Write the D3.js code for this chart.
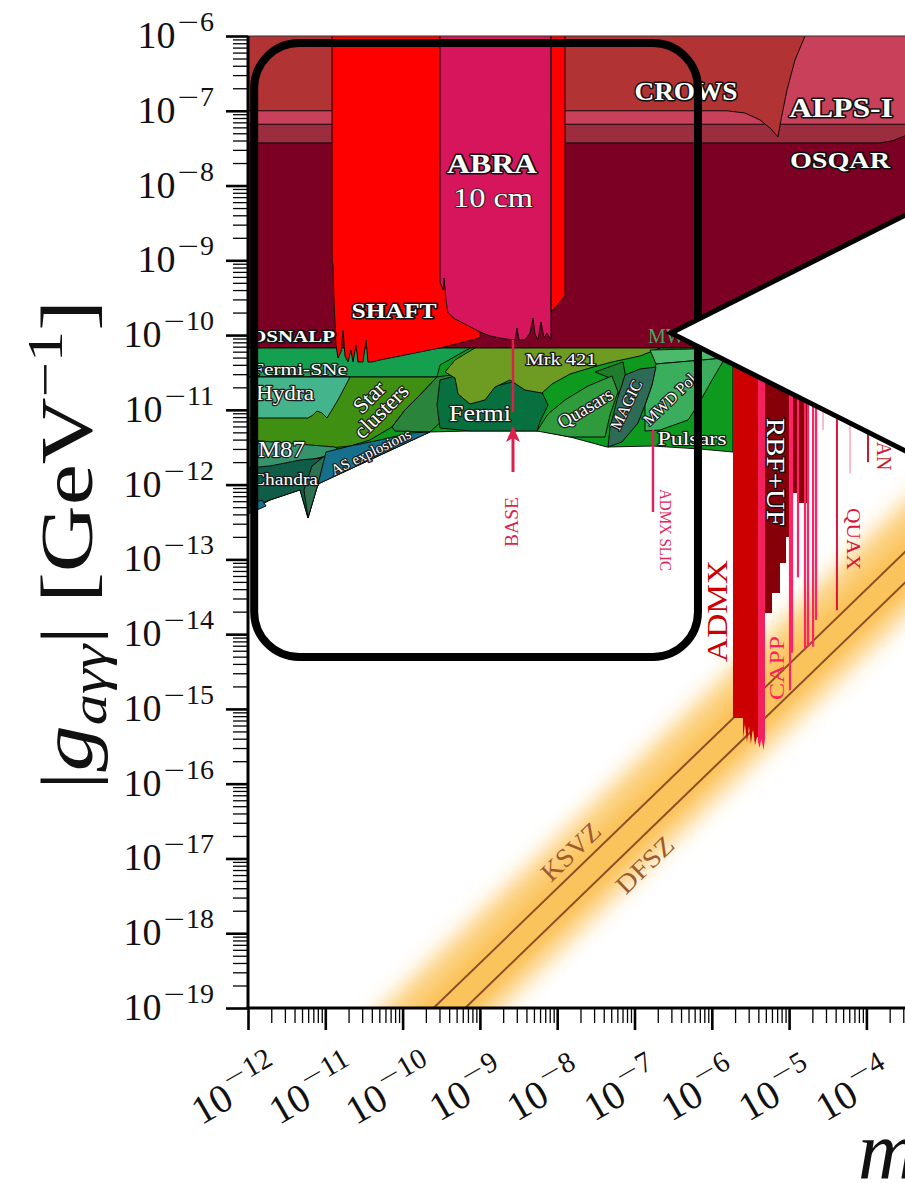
<!DOCTYPE html>
<html><head><meta charset="utf-8">
<script src="https://cdn.jsdelivr.net/npm/d3@7"></script>
<style>
html,body{margin:0;padding:0;background:#fff;}
svg{display:block;}
text{font-family:"Liberation Serif","Times New Roman",serif;}
</style></head><body>
<svg id="chart" width="905" height="1183"></svg>
<script>
// All coordinates below are [log10(m_a / eV), log10(|g| / GeV^-1)]
const xMajorExps = [-12,-11,-10,-9,-8,-7,-6,-5,-4,-3];
const yMajorExps = [-19,-18,-17,-16,-15,-14,-13,-12,-11,-10,-9,-8,-7,-6];

// --- laboratory / helioscope limits (top part) ---
const castRegion  = [[-12,-5.9],[-3,-5.9],[-3,-10.173],[-12,-10.173]];
const osqarRegion = [[-12,-7.0],[-3,-7.0],[-3,-7.25],[-3.436,-7.31],[-3.565,-7.36],[-3.656,-7.40],[-3.824,-7.43],[-12,-7.43]];
const alpsRegion  = [[-12,-5.9],[-3,-5.9],[-3,-7.18],[-12,-7.18]];
const crowsRegion = [[-12,-5.9],[-4.78,-5.9],[-4.794,-6.0],[-4.924,-6.321],[-5.027,-6.722],[-5.105,-7.123],[-5.144,-7.351],
  [-5.247,-7.230],[-5.376,-7.123],[-5.571,-7.030],[-5.803,-7.0],[-12,-7.0]];
const shaftRegion = [[-10.913,-5.9],[-8.999,-5.9],[-8.999,-10.039],[-9.257,-10.106],[-9.516,-10.173],[-9.775,-10.226],
  [-10.034,-10.280],[-10.163,-10.307],[-10.292,-10.333],[-10.396,-10.360],[-10.448,-10.360],[-10.473,-10.066],
  [-10.512,-10.360],[-10.577,-10.360],[-10.603,-10.133],[-10.642,-10.360],[-10.668,-10.2],[-10.706,-10.360],
  [-10.745,-10.280],[-10.771,-9.932],[-10.797,-10.226],[-10.836,-10.307],[-10.862,-10.133],[-10.888,-9.531],
  [-10.901,-9.063],[-10.913,-8.996]];
const abraRegion = [[-9.516,-5.9],[-8.080,-5.9],[-8.080,-10.066],[-8.132,-9.972],[-8.171,-10.039],[-8.210,-9.825],
  [-8.248,-10.066],[-8.287,-9.986],[-8.313,-9.772],[-8.352,-9.972],[-8.417,-10.066],[-8.494,-10.066],[-8.520,-9.905],
  [-8.546,-10.066],[-8.675,-10.052],[-8.869,-10.012],[-9.025,-9.945],[-9.193,-9.852],[-9.322,-9.785],[-9.413,-9.705],
  [-9.439,-9.531],[-9.464,-9.237],[-9.477,-9.397],[-9.516,-9.290]];
const shaftHighMass = [[-8.080,-5.9],[-7.899,-5.9],[-7.899,-9.477],[-8.067,-9.678],[-8.080,-9.678]];

// --- astrophysical bounds ---
const pulsars      = [[-12,-10.173],[-5.726,-10.173],[-5.726,-11.564],[-6.153,-11.524],[-6.761,-11.484],[-7.356,-11.497],
  [-7.834,-11.363],[-8.222,-11.283],[-9.128,-11.283],[-9.646,-11.296],[-11.094,-11.992],[-11.224,-12.446],
  [-11.327,-12.072],[-11.715,-12.206],[-12,-12.366]];
const fermiSNe     = [[-12,-10.173],[-9.128,-10.173],[-9.516,-10.400],[-9.555,-10.561],[-12,-10.561]];
const starClusters = [[-12,-10.561],[-9.555,-10.561],[-9.775,-10.801],[-9.969,-11.002],[-10.137,-11.229],[-10.422,-11.403],
  [-10.680,-11.484],[-10.939,-11.510],[-11.327,-11.497],[-11.715,-11.484],[-12,-11.470]];
const hydra        = [[-12,-10.561],[-10.680,-10.561],[-10.836,-10.868],[-10.978,-11.109],[-11.043,-11.042],[-11.107,-11.015],
  [-11.159,-11.069],[-11.224,-11.109],[-12,-11.109]];
const gammaPatch   = [[-9.555,-10.561],[-9.128,-10.494],[-9.322,-10.801],[-9.477,-11.136],[-9.646,-11.296],[-10.098,-11.283],
  [-10.137,-11.229],[-9.969,-11.002],[-9.775,-10.801]];
const m87          = [[-12,-11.403],[-10.875,-11.497],[-10.784,-11.564],[-11.094,-11.644],[-11.327,-11.698],[-11.715,-11.778],[-12,-11.831]];
const chandra      = [[-12,-11.778],[-11.715,-11.751],[-11.327,-11.671],[-11.043,-11.644],[-11.094,-11.992],[-11.224,-12.446],
  [-11.327,-12.072],[-11.715,-12.206],[-12,-12.313]];
const chandraSpike = [[-11.043,-11.644],[-10.939,-11.564],[-11.094,-11.992],[-11.224,-12.446],[-11.276,-12.072],[-11.172,-11.751]];
const asExplosions = [[-11.094,-11.992],[-10.991,-11.564],[-10.680,-11.484],[-10.292,-11.403],[-9.904,-11.310],[-9.646,-11.296]];
const asCorner     = [[-12,-12.273],[-11.819,-12.206],[-11.767,-12.286],[-12,-12.393]];
const fermi        = [[-9.516,-10.601],[-9.128,-10.494],[-8.740,-10.668],[-8.481,-10.601],[-8.222,-10.708],[-8.119,-10.935],
  [-8.222,-11.162],[-8.261,-11.283],[-9.128,-11.283],[-9.516,-11.243],[-9.555,-10.935]];
const mrk421       = [[-9.322,-10.333],[-9.063,-10.173],[-6.670,-10.173],[-6.929,-10.280],[-7.291,-10.360],[-7.576,-10.440],
  [-7.834,-10.521],[-8.067,-10.654],[-8.197,-10.775],[-8.417,-10.735],[-8.611,-10.601],[-8.805,-10.695],[-8.934,-10.868],
  [-9.128,-10.922],[-9.283,-10.788],[-9.322,-10.574],[-9.451,-10.494]];
const quasarsDark  = [[-7.511,-10.494],[-7.149,-10.360],[-7.110,-10.574],[-7.214,-10.801],[-7.317,-10.574]];
const quasars      = [[-8.261,-11.283],[-8.119,-11.056],[-7.899,-10.868],[-7.601,-10.681],[-7.291,-10.547],[-7.214,-10.761],
  [-7.317,-11.069],[-7.382,-11.363],[-7.834,-11.363]];
const mwdTop       = [[-6.799,-10.2],[-5.726,-10.173],[-5.726,-10.280],[-5.829,-10.307],[-6.722,-10.387]];
const mwdPol       = [[-6.722,-10.387],[-5.829,-10.307],[-5.997,-10.601],[-6.179,-10.935],[-6.308,-11.136],[-6.670,-11.270],
  [-6.864,-11.283],[-6.864,-10.935],[-6.774,-10.668]];
const magic        = [[-7.343,-11.497],[-7.317,-11.243],[-7.226,-10.868],[-7.123,-10.534],[-6.929,-10.454],[-6.722,-10.427],
  [-6.774,-10.668],[-6.864,-10.935],[-6.955,-11.176],[-7.162,-11.430]];

// --- haloscopes ---
const admx  = [[-5.726,-10.0],[-5.402,-10.0],[-5.402,-15.375],[-5.416,-15.375],[-5.441,-15.482],[-5.468,-15.255],[-5.494,-15.469],
  [-5.519,-15.228],[-5.545,-15.442],[-5.571,-15.201],[-5.597,-15.389],[-5.597,-15.121],[-5.726,-15.121]];
const capp  = [[-5.402,-10.0],[-5.312,-10.0],[-5.312,-15.40],[-5.33,-15.55],[-5.36,-15.40],[-5.38,-15.52],[-5.402,-15.45]];
const rbfuf = [[-5.350,-10.0],[-4.768,-10.0],[-4.768,-12.246],[-4.897,-12.246],[-4.897,-12.112],[-4.988,-12.112],[-4.988,-12.701],
  [-5.040,-12.701],[-5.040,-13.048],[-5.118,-13.048],[-5.118,-13.450],[-5.221,-13.450],[-5.221,-13.717],[-5.350,-13.717]];
const cavityLines = [[-4.988,-14.75],[-4.962,-14.25],[-4.885,-13.24],[-4.794,-14.21],[-4.755,-14.17],[-4.690,-14.17],[-4.651,-13.81]];
const faintLines  = [[-4.561,-11.27],[-4.432,-11.10],[-4.212,-11.85]];
const quaxLine  = [[-4.381,-10.0],[-4.381,-13.68]];
const organLine = [[-3.979,-10.0],[-3.979,-11.70]];
const baseLine  = [[-8.572,-10.066],[-8.572,-11.029]];
const baseArrow = [[-8.572,-11.831],[-8.572,-11.243]];
const slicLine  = [[-6.761,-11.27],[-6.761,-12.366]];

// --- QCD axion band ---
const ksvzLine = [[-10.5,-19.90],[-3,-12.40]];
const dfszLine = [[-10.5,-20.31],[-3,-12.81]];
const bandCore = [[-10.5,-19.70],[-3,-12.20],[-3,-12.95],[-10.5,-20.45]];
const bandGlow = [[-10.5,-19.25],[-3,-11.75],[-3,-13.25],[-10.5,-20.75]];

// --- inset frame ---
const zoomBox = [[-11.92,-6.094],[-6.179,-14.305]];
const calloutApex = [-6.528,-9.972];

// ---------------------------------------------------------------
const svg = d3.select("#chart");
const x = d3.scaleLog().domain([1e-12, 1e-3]).range([248, 248 + 9*77.3]);
const y = d3.scaleLog().domain([1e-19, 1e-6]).range([1008, 36]);
const X = d => x(Math.pow(10, d[0]));
const Y = d => y(Math.pow(10, d[1]));
const line = d3.line().x(X).y(Y);

const defs = svg.append("defs");
defs.append("clipPath").attr("id","plotClip").append("rect")
  .attr("x",248).attr("y",36).attr("width",905-248).attr("height",1008-36);
const blurS = defs.append("filter").attr("id","blurS").attr("x","-20%").attr("y","-20%").attr("width","140%").attr("height","140%");
blurS.append("feGaussianBlur").attr("stdDeviation",4);
const blurL = defs.append("filter").attr("id","blurL").attr("x","-20%").attr("y","-20%").attr("width","140%").attr("height","140%");
blurL.append("feGaussianBlur").attr("stdDeviation",11);

const plot = svg.append("g").attr("clip-path","url(#plotClip)");

function region(pts, fill, sw = 0.9) {
  plot.append("path").attr("d", line(pts) + "Z")
    .attr("fill", fill).attr("stroke", "#000").attr("stroke-width", sw).attr("stroke-linejoin","round");
}
function vline(pts, color, w) {
  plot.append("path").attr("d", line(pts)).attr("fill","none").attr("stroke", color).attr("stroke-width", w);
}

// QCD band
plot.append("path").attr("d", line(bandGlow)+"Z").attr("fill","#fbbf50").attr("opacity",0.8).attr("filter","url(#blurL)");
plot.append("path").attr("d", line(bandCore)+"Z").attr("fill","#fbc35c").attr("filter","url(#blurS)");
vline(ksvzLine, "#8c5028", 2);
vline(dfszLine, "#8c5028", 2);

// helioscope / LSW
region(castRegion, "#7b0023");
region(osqarRegion, "#9b2d3e");
region(alpsRegion, "#c9405a");
region(crowsRegion, "#b13333");

// astrophysics
region(pulsars, "#0d9a1e");
region(fermiSNe, "#14a04f");
region(starClusters, "#3f8f12");
region(hydra, "#44b48c");
region(gammaPatch, "#2b843c");
region(m87, "#35946b");
region(chandra, "#0f5c47");
region(chandraSpike, "#2d7150");
region(asExplosions, "#166f8b");
region(asCorner, "#166f8b");
region(fermi, "#08703f");
region(mrk421, "#6e9c22");
region(quasarsDark, "#1f7d2d");
region(quasars, "#2f9b3c");
region(mwdTop, "#4cb96c");
region(mwdPol, "#3aae5d");
region(magic, "#2d6b57");

// low-mass lab searches
region(shaftRegion, "#ff0000");
region(abraRegion, "#d6155c");
region(shaftHighMass, "#ff0000");

vline(baseLine, "#dc1f4b", 2.5);
vline(slicLine, "#e0245a", 2.5);

// haloscopes
region(admx, "#cc0000", 0);
region(rbfuf, "#86000a", 0);
region(capp, "#f4205c", 0);
cavityLines.forEach(d => vline([[d[0],-10.0],[d[0],d[1]]], "#ff2366", 2.2));
faintLines.forEach(d => vline([[d[0],-10.0],[d[0],d[1]]], "#ff9fb5", 1.4));
vline(quaxLine, "#dc143c", 2);
vline(organLine, "#cc1a2a", 2);

// BASE arrow
const arrowG = svg.append("g");
arrowG.append("path").attr("d", line(baseArrow)).attr("stroke","#dc1f4b").attr("stroke-width",3).attr("fill","none");
{
  const tip = [X(baseArrow[1]), Y(baseArrow[1])];
  arrowG.append("path")
    .attr("d", `M${tip[0]},${tip[1]-2} L${tip[0]-7},${tip[1]+14} L${tip[0]},${tip[1]+10} L${tip[0]+7},${tip[1]+14} Z`)
    .attr("fill","#dc1f4b");
}

// labels
const labels = svg.append("g");
function label(txt, pos, o) {
  const t = labels.append("text")
    .attr("transform", `translate(${X(pos)},${Y(pos)}) rotate(${o.rot || 0})`)
    .attr("text-anchor", o.anchor || "middle")
    .attr("font-size", o.size)
    .attr("fill", o.fill || "#fff")
    .text(txt);
  if (o.mid) t.attr("dominant-baseline", "central");
  if (o.italic) t.attr("font-style", "italic");
  if (o.weight) t.attr("font-weight", o.weight);
  if (o.stroke) t.attr("stroke", o.stroke).attr("stroke-width", o.sw || 3)
      .attr("paint-order", "stroke").attr("stroke-linejoin", "round");
  if (o.len) t.attr("textLength", o.len).attr("lengthAdjust", "spacingAndGlyphs");
  return t;
}
const W = { stroke: "#111", sw: 3 };
const G = { stroke: "#1a1a1a", sw: 2.4 };
label("CROWS", [-6.334,-6.856], {size:26, len:103, weight:"bold", ...W});
label("ALPS-I", [-4.329,-7.083], {size:27, len:104, weight:"bold", ...W});
label("OSQAR", [-4.342,-7.765], {size:23, len:100, weight:"bold", ...W});
label("ABRA", [-8.843,-7.832], {size:27, len:90, weight:"bold", ...W});
label("10 cm", [-8.830,-8.287], {size:27, len:80, stroke:"#222", sw:1.6});
label("SHAFT", [-10.111,-9.772], {size:21, len:85, weight:"bold", ...W});
label("OSNALP", [-11.974,-10.093], {size:17, len:85, anchor:"start", weight:"bold", ...W});
label("Fermi-SNe", [-11.948,-10.534], {size:16, len:95, anchor:"start", ...G});
label("Hydra", [-11.897,-10.868], {size:21, len:58, anchor:"start", ...G});
label("Star", [-10.435,-10.828], {size:22, rot:-45, mid:true, ...G});
label("clusters", [-10.279,-11.015], {size:22, rot:-45, mid:true, ...G});
label("M87", [-11.871,-11.631], {size:24, len:47, anchor:"start", ...G});
label("Chandra", [-11.948,-12.005], {size:17, len:66, anchor:"start", ...G});
label("AS explosions", [-10.409,-11.564], {size:15, rot:-26, mid:true, ...G});
label("Fermi", [-8.999,-11.149], {size:24, len:62, ...G});
label("Mrk 421", [-7.951,-10.400], {size:16, len:71, ...G});
label("Quasars", [-7.640,-10.975], {size:19, rot:-31, mid:true, ...G});
label("MAGIC", [-7.110,-10.935], {size:16, rot:-64, mid:true, ...G});
label("MWD Pol.", [-6.528,-10.841], {size:16, rot:-44, mid:true, ...G});
label("Pulsars", [-6.256,-11.470], {size:19, len:69, ...G});
label("MW", [-6.825,-10.106], {size:20, anchor:"start", fill:"#3daa5c"});
label("BASE", [-8.585,-12.500], {size:19, len:50, rot:-90, mid:true, fill:"#dc1f4b"});
label("ADMX SLIC", [-6.593,-12.607], {size:16, len:82, rot:90, mid:true, fill:"#e0245a"});
label("ADMX", [-5.933,-13.690], {size:30, len:102, rot:-90, mid:true, fill:"#cc0000"});
label("CAPP", [-5.157,-14.453], {size:21, len:64, rot:-90, mid:true, fill:"#ff1f5a"});
label("RBF+UF", [-5.182,-11.831], {size:26, len:108, rot:90, mid:true, ...W, sw:2.5});
label("QUAX", [-4.173,-12.727], {size:18, len:62, rot:90, mid:true, fill:"#dc143c"});
label("ORGAN", [-3.772,-11.336], {size:20, rot:90, mid:true, fill:"#cc1a2a"});
label("KSVZ", [-7.821,-16.913], {size:26, len:72, rot:-44, mid:true, fill:"#a05a2c"});
label("DFSZ", [-6.864,-17.087], {size:26, len:70, rot:-44, mid:true, fill:"#a05a2c"});

// inset frame and callout
const bx0 = X(zoomBox[0]), by0 = Y(zoomBox[0]), bx1 = X(zoomBox[1]), by1 = Y(zoomBox[1]);
svg.append("rect").attr("x",bx0).attr("y",by0).attr("width",bx1-bx0).attr("height",by1-by0)
  .attr("rx",45).attr("ry",45).attr("fill","none").attr("stroke","#000").attr("stroke-width",8);
{
  const ax = X(calloutApex), ay = Y(calloutApex);
  svg.append("path")
    .attr("d", `M${ax},${ay} L${ax+340},${ay-171} L${ax+340},${ay+171} Z`)
    .attr("fill","#fff").attr("stroke","#000").attr("stroke-width",5).attr("stroke-linejoin","miter");
}

// top spine
svg.append("line").attr("x1",248).attr("x2",905).attr("y1",36).attr("y2",36).attr("stroke","#333").attr("stroke-width",1.2);

// axes
const yMinor = [], xMinor = [];
yMajorExps.slice(0,-1).forEach(e => { for (let k = 2; k <= 9; k++) yMinor.push(k*Math.pow(10,e)); });
xMajorExps.slice(0,-1).forEach(e => { for (let k = 2; k <= 9; k++) xMinor.push(k*Math.pow(10,e)); });
const yMajor = yMajorExps.map(e => Math.pow(10,e));
const xMajor = xMajorExps.map(e => Math.pow(10,e));

function styleAxis(g, w) {
  g.select(".domain").remove();
  g.selectAll(".tick line").attr("stroke","#000").attr("stroke-width", w);
}
const gy = svg.append("g").attr("transform","translate(248,0)");
gy.append("g").call(d3.axisLeft(y).tickValues(yMinor).tickSize(15).tickFormat("")).call(g => styleAxis(g,1.3));
gy.append("g").call(d3.axisLeft(y).tickValues(yMajor).tickSize(22).tickFormat("")).call(g => styleAxis(g,2.6));
const gx = svg.append("g").attr("transform","translate(0,1008)");
gx.append("g").call(d3.axisBottom(x).tickValues(xMinor).tickSize(15).tickFormat("")).call(g => styleAxis(g,1.3));
gx.append("g").call(d3.axisBottom(x).tickValues(xMajor).tickSize(22).tickFormat("")).call(g => styleAxis(g,2.6));
svg.append("line").attr("x1",248).attr("x2",248).attr("y1",36).attr("y2",1009.5).attr("stroke","#000").attr("stroke-width",3);
svg.append("line").attr("x1",246.5).attr("x2",905).attr("y1",1008).attr("y2",1008).attr("stroke","#000").attr("stroke-width",3);

// tick labels: 10 with a raised exponent
function powerLabel(t, e, big) {
  t.append("tspan").text("10");
  t.append("tspan").attr("font-size",big).attr("dy",-17).attr("dx",1)
    .attr("font-family","'DejaVu Sans',sans-serif").attr("font-weight",300).text("\u2212");
  t.append("tspan").attr("font-size",big).text(Math.abs(e));
}
yMajorExps.forEach(e => {
  const t = svg.append("text").attr("x",214).attr("y", y(Math.pow(10,e)) + 12)
    .attr("text-anchor","end").attr("font-size",38).attr("fill","#111");
  powerLabel(t, e, 28);
});
xMajorExps.forEach(e => {
  const px = x(Math.pow(10,e));
  if (px > 900) return;
  const t = svg.append("text").attr("transform",`translate(${px-6},${1102}) rotate(-30)`)
    .attr("text-anchor","middle").attr("font-size",40).attr("fill","#111");
  powerLabel(t, e, 29);
});

// axis titles
{
  const t = svg.append("text").attr("transform","translate(92,545) rotate(-90)")
    .attr("text-anchor","middle").attr("font-size",74).attr("fill","#111")
    .attr("textLength",490).attr("lengthAdjust","spacingAndGlyphs");
  t.append("tspan").text("|");
  t.append("tspan").attr("font-style","italic").text("g");
  t.append("tspan").attr("font-style","italic").attr("font-size",50).attr("dy",14).text("a\u03b3\u03b3");
  t.append("tspan").attr("dy",-14).text("| [GeV");
  t.append("tspan").attr("font-size",50).attr("dy",-30).text("\u22121");
  t.append("tspan").attr("dy",30).text("]");
}
{
  const t = svg.append("text").attr("x",858).attr("y",1178).attr("font-size",82).attr("fill","#111");
  t.append("tspan").attr("font-style","italic").text("m");
  t.append("tspan").attr("font-style","italic").attr("font-size",56).attr("dy",12).text("a");
  t.append("tspan").attr("dy",-12).text(" [eV]");
}
</script>
</body></html>
